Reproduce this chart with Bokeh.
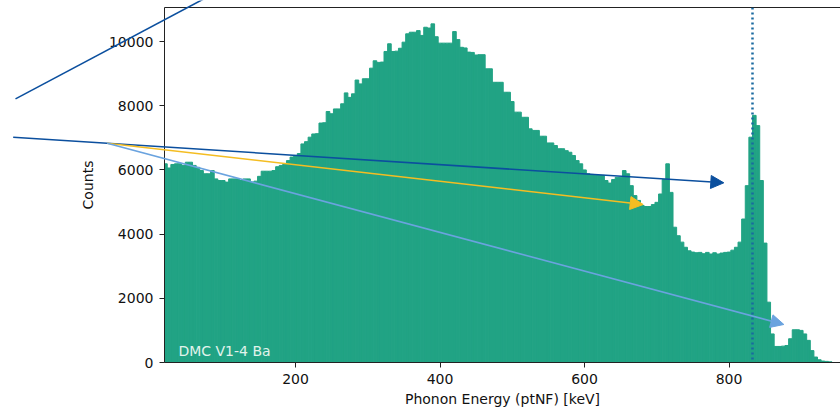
from bokeh.plotting import figure
from bokeh.models import Range1d, Arrow, NormalHead, Label, Span, LinearAxis, FixedTicker
from bokeh.embed import file_html
from bokeh.resources import INLINE

# ---- data ----
bin_width = 5.0
bin_centers = list(range(20, 945, 5))
counts = [
    6190, 6060, 6170, 6190, 6190, 6140, 6240, 6240, 6140, 6080,   # 20-65
    5980, 5880, 5880, 5980, 5720, 5670, 5670, 5620, 5720, 5720,   # 70-115
    5720, 5670, 5720, 5720, 5620, 5650, 5800, 5960, 5960, 5960,   # 120-165
    5980, 6100, 6140, 6200, 6290, 6400, 6450, 6510, 6810, 6880,   # 170-215
    7020, 7120, 7130, 7460, 7470, 7820, 7750, 7900, 7900, 8060,   # 220-265
    8400, 8260, 8370, 8800, 8680, 8840, 8840, 9170, 9400, 9350,   # 270-315
    9360, 9690, 9930, 9690, 9700, 9790, 9980, 10240, 10290, 10290,  # 320-365
    10340, 10190, 10445, 10420, 10550, 10150, 9950, 9950, 9950, 9950,  # 370-415
    10310, 10060, 9820, 9800, 9670, 9660, 9580, 9590, 9590, 9150,  # 420-465
    9150, 8730, 8730, 8730, 8420, 8420, 8130, 7800, 7800, 7640,   # 470-515
    7640, 7280, 7230, 7230, 7050, 7050, 6840, 6840, 6760, 6660,   # 520-565
    6660, 6600, 6550, 6450, 6290, 6190, 6000, 5880, 5860, 5830,   # 570-615
    5830, 5830, 5670, 5590, 5700, 5770, 5770, 5980, 5880, 5510,   # 620-665
    5200, 5050, 4890, 4860, 4860, 4920, 4990, 5250, 5700, 6190,   # 670-715
    5300, 4215, 3950, 3750, 3590, 3480, 3440, 3420, 3430, 3390,   # 720-765
    3430, 3380, 3420, 3380, 3410, 3430, 3440, 3500, 3590, 3750,   # 770-815
    4470, 5510, 7020, 7700, 7380, 5670, 3720, 1880, 890, 500,     # 820-865
    500, 510, 530, 740, 1020, 1020, 1000, 890, 690, 370,          # 870-915
    170, 85, 45, 35, 20,                                          # 920-940
]
x_ticks = [200, 400, 600, 800]
y_ticks = [0, 2000, 4000, 6000, 8000, 10000]
peak_energy = 832.5
x_lims = (18.7, 954.3)
y_lims = (0, 11060)

# annotation arrows (data coordinates: keV, counts); they start left of the axes
arrow_x_start = [-187.5, -190.7, -60.6, -60.6]
arrow_y_start = [8214, 7018, 6831, 6831]
arrow_x_end = [207.0, 792.8, 681.2, 875.9]
arrow_y_end = [12927, 5598, 4922, 1184]
arrow_colors = ["#0b4f9e", "#0b4f9e", "#f4bd22", "#6aa3df"]

# ---- layout constants (pixels) ----
W, H = 840, 412
FL, FR, FT, FB = 164, 840, 7, 362   # frame left/right/top/bottom

left = [c - bin_width / 2 for c in bin_centers]
right = [c + bin_width / 2 for c in bin_centers]

p = figure(width=W, height=H, x_range=Range1d(*x_lims), y_range=Range1d(*y_lims),
           output_backend="svg", toolbar_location=None,
           min_border_left=FL, min_border_right=W - FR, min_border_top=FT, min_border_bottom=H - FB)
p.grid.visible = False
p.outline_line_color = None
p.background_fill_color = "white"
p.border_fill_color = "white"

HIST = "#21a384"
p.quad(left=left, right=right, bottom=0, top=counts, fill_color=HIST, line_color=HIST, line_width=1)

FONT = "DejaVu Sans"
for ax in (p.xaxis[0], p.yaxis[0]):
    ax.major_tick_out = 5
    ax.major_tick_in = 0
    ax.minor_tick_line_color = None
    ax.major_label_text_font = FONT
    ax.major_label_text_font_size = "14px"
    ax.major_label_text_color = "#111111"
    ax.axis_label_text_font = FONT
    ax.axis_label_text_font_size = "14px"
    ax.axis_label_text_font_style = "normal"
    ax.axis_label_text_color = "#111111"
    ax.axis_line_color = "#222222"
    ax.major_tick_line_color = "#222222"

p.xaxis[0].ticker = FixedTicker(ticks=x_ticks)
p.yaxis[0].ticker = FixedTicker(ticks=y_ticks)
p.xaxis[0].axis_label = "Phonon Energy (ptNF) [keV]"
p.yaxis[0].axis_label = "Counts"
p.xaxis[0].major_label_standoff = 6
p.xaxis[0].axis_label_standoff = 4
p.yaxis[0].major_label_standoff = 6
p.yaxis[0].axis_label_standoff = 10

top_axis = LinearAxis(ticker=FixedTicker(ticks=[]), major_tick_out=0, major_tick_in=0,
                      minor_tick_out=0, minor_tick_in=0, major_label_standoff=0,
                      axis_line_color="#222222")
p.add_layout(top_axis, "above")

p.add_layout(Span(location=peak_energy, dimension="height", line_color="#1a6aa0",
                  line_width=2.5, line_dash="2 3"))

p.add_layout(Label(x=38, y=343, text="DMC V1-4 Ba", text_font=FONT, text_font_size="14px",
                   text_color="#e2f3ec", text_baseline="alphabetic"))

# ---- transparent overlay figure spanning the whole canvas, same data scale ----
kx = (x_lims[1] - x_lims[0]) / (FR - FL)   # keV per pixel
ky = (y_lims[1] - y_lims[0]) / (FB - FT)   # counts per pixel
ov_x = Range1d(x_lims[0] - FL * kx, x_lims[1] + (W - FR) * kx)
ov_y = Range1d(y_lims[0] - (H - FB) * ky, y_lims[1] + FT * ky)
ov = figure(width=W, height=H, x_range=ov_x, y_range=ov_y, output_backend="svg",
            toolbar_location=None, x_axis_type=None, y_axis_type=None,
            min_border=0, min_border_left=0, min_border_right=0, min_border_top=0, min_border_bottom=0)
ov.grid.visible = False
ov.outline_line_color = None
ov.background_fill_color = None
ov.border_fill_color = None
ov.styles = {"position": "absolute", "left": "0px", "top": "0px"}

for xs, ys, xe, ye, col in zip(arrow_x_start, arrow_y_start, arrow_x_end, arrow_y_end, arrow_colors):
    ov.add_layout(Arrow(x_start=xs, y_start=ys, x_end=xe, y_end=ye, line_color=col, line_width=1.6,
                        end=NormalHead(size=13, fill_color=col, line_color=col)))

open("out.html", "w").write(file_html([p, ov], INLINE))
